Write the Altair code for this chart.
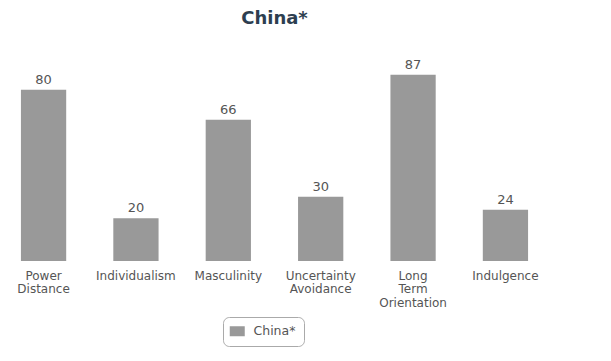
import altair as alt
import pandas as pd

categories = ["Power Distance", "Individualism", "Masculinity",
              "Uncertainty Avoidance", "Long Term Orientation", "Indulgence"]
values = [80, 20, 66, 30, 87, 24]
series_name = "China*"

df = pd.DataFrame({"dimension": categories, "score": values,
                   "country": [series_name] * len(categories)})

x = alt.X("dimension:N", sort=categories,
          scale=alt.Scale(paddingInner=0.51, paddingOuter=0.14),
          axis=alt.Axis(title=None, labelAngle=0,
                        labelExpr="split(datum.label, ' ')",
                        domain=False, ticks=False, grid=False,
                        labelColor="#555555", labelFont="DejaVu Sans",
                        labelFontSize=12, labelPadding=9,
                        labelLineHeight=13.5, labelBaseline="top"))
y = alt.Y("score:Q", scale=alt.Scale(domain=[0, 100]), axis=None)

base = alt.Chart(df).encode(x=x, y=y)

bars = base.mark_bar(stroke=None).encode(
    color=alt.Color("country:N", scale=alt.Scale(range=["#999999"]),
                    legend=alt.Legend(title=None, orient="none",
                                      legendX=215, legendY=270,
                                      direction="horizontal",
                                      strokeColor="#aaaaaa", cornerRadius=6,
                                      padding=8,
                                      symbolType="M-1.5,-1H1.5V1H-1.5Z",
                                      symbolSize=100,
                                      symbolStrokeWidth=0,
                                      labelOffset=10,
                                      labelFont="DejaVu Sans",
                                      labelFontSize=12.5,
                                      labelColor="#555555"))
)

labels = base.mark_text(baseline="bottom", dy=-3, font="DejaVu Sans",
                        fontSize=13, color="#555555").encode(
    text="score:Q")

chart = (bars + labels).properties(
    width=533, height=214,
    title=alt.TitleParams("China*", font="DejaVu Sans", fontSize=18,
                          fontWeight="bold", color="#2d3e50",
                          anchor="middle", offset=19),
    padding={"left": 0, "right": 0, "top": 2, "bottom": 0},
).configure_view(stroke=None)

chart.save("out.html", embed_options={"renderer": "svg", "actions": False})
